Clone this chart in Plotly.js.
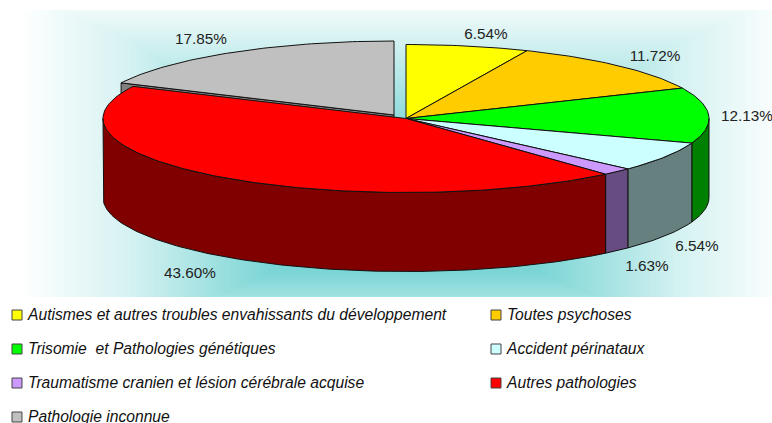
<!DOCTYPE html>
<html><head><meta charset="utf-8">
<script src="https://cdn.plot.ly/plotly-3.0.1.min.js"></script>
<style>html,body{margin:0;padding:0;background:#fff;overflow:hidden}</style>
</head><body><div id="chart" style="width:772px;height:423px"></div>
<script>
const categories = ["Autismes et autres troubles envahissants du développement","Toutes psychoses","Trisomie  et Pathologies génétiques","Accident périnataux","Traumatisme cranien et lésion cérébrale acquise","Autres pathologies","Pathologie inconnue"];
const shares = [6.54, 11.72, 12.13, 6.54, 1.63, 43.60, 17.85];
const topColours = ["#ffff00","#ffcc00","#00ff00","#ccffff","#cc99ff","#ff0000","#c0c0c0"];
const wallColours = ["#808000","#806600","#008000","#668080","#664c80","#800000","#808080"];
const labelAnchors = [[486,35],[655,57],[747,117],[697,247],[647,267],[190,274],[201,40]];
const legendCols = [12, 491], legendRows = [315, 349, 383, 417];

const cx=406, cy=118.5, rx=303, ry=74, depth=79;
const explode = {6:[-12,-3.5]};
const total = shares.reduce((a,b)=>a+b,0);
let cum=0;
const slices = shares.map((v,i)=>{const a0=cum/total*360;cum+=v;return {i,a0,a1:cum/total*360};});
function pt(a,o,dy){const r=a*Math.PI/180;return [cx+o[0]+rx*Math.sin(r), cy+o[1]+ry*-Math.cos(r)+(dy||0)];}
function arc(a0,a1,o,dy){const p=[];const n=Math.max(2,Math.ceil(Math.abs(a1-a0)));for(let k=0;k<=n;k++)p.push(pt(a0+(a1-a0)*k/n,o,dy));return p;}
function poly(points,fill,name){return {type:'scatter',mode:'lines',x:points.map(p=>p[0]),y:points.map(p=>p[1]),fill:'toself',fillcolor:fill,line:{color:'#111',width:1},hoverinfo:'skip',showlegend:false,name:name};}
function topFace(s){const o=explode[s.i]||[0,0];const c=[cx+o[0],cy+o[1]];return poly([c,...arc(s.a0,s.a1,o),c],topColours[s.i],categories[s.i]);}
function wall(s){const o=explode[s.i]||[0,0];const a=Math.max(s.a0,90),b=Math.min(s.a1,270);if(b<=a)return null;return poly([...arc(a,b,o),...arc(b,a,o,depth),pt(a,o)],wallColours[s.i],categories[s.i]);}
function cutFace(s){const o=explode[s.i]||[0,0];const c=[cx+o[0],cy+o[1]];const e=pt(s.a0,o);return poly([c,e,[e[0],e[1]+depth],[c[0],c[1]+depth],c],wallColours[s.i],categories[s.i]);}

const traces=[];
traces.push(cutFace(slices[6]));
traces.push(topFace(slices[6]));
slices.slice(0,6).forEach(s=>{const w=wall(s);if(w)traces.push(w);});
slices.slice(0,6).forEach(s=>traces.push(topFace(s)));

const legX=categories.map((c,i)=>legendCols[i%2]+5), legY=categories.map((c,i)=>legendRows[Math.floor(i/2)]);
traces.push({type:'scatter',mode:'markers',x:legX,y:legY,cliponaxis:false,
 marker:{symbol:'square',size:10,color:topColours,line:{color:'#444',width:1}},hoverinfo:'skip',showlegend:false});
traces.push({type:'scatter',mode:'text',x:legX.map(v=>v+11),y:legY.map(v=>v+1.5),cliponaxis:false,
 text:categories.map(c=>'<i>'+c+'</i>'),textposition:'middle right',textfont:{family:'Liberation Sans, Arial, sans-serif',size:15.65,color:'#111'},hoverinfo:'skip',showlegend:false});
traces.push({type:'scatter',mode:'text',x:labelAnchors.map(a=>a[0]),y:labelAnchors.map(a=>a[1]),text:shares.map(v=>v.toFixed(2)+'%'),textposition:'middle center',textfont:{family:'Liberation Sans, Arial, sans-serif',size:15.3,color:'#222'},hoverinfo:'skip',showlegend:false});

// soft teal rectangular glow behind the pie
const bgX=20,bgY=10,bgW=752,bgH=287;
const cv=document.createElement('canvas');cv.width=bgW;cv.height=bgH;const g=cv.getContext('2d');const im=g.createImageData(bgW,bgH);
for(let y=0;y<bgH;y++)for(let x=0;x<bgW;x++){const px=x+bgX,py=y+bgY;const dx=Math.abs(px-405);
 const h=dx<135?0:dx<275?(dx-135)*0.00486:Math.min(1,0.68+(dx-275)*0.0029);
 const v=Math.max(0,(140-py)*0.0068,(py-272)*0.0115);
 const t=Math.min(1,Math.max(h,v));const k=(x+y*bgW)*4;
 im.data[k]=124+131*t;im.data[k+1]=213+42*t;im.data[k+2]=213+42*t;im.data[k+3]=255;}
g.putImageData(im,0,0);

const layout={width:772,height:423,margin:{l:0,r:0,t:0,b:0},paper_bgcolor:'#fff',plot_bgcolor:'rgba(0,0,0,0)',
 xaxis:{range:[0,772],visible:false,fixedrange:true},yaxis:{range:[423,0],visible:false,fixedrange:true},showlegend:false,
 images:[{source:cv.toDataURL(),xref:'x',yref:'y',x:bgX,y:bgY,sizex:bgW,sizey:bgH,sizing:'stretch',xanchor:'left',yanchor:'top',layer:'below'}]};
Plotly.newPlot('chart',traces,layout,{displayModeBar:false,staticPlot:true});
</script></body></html>
